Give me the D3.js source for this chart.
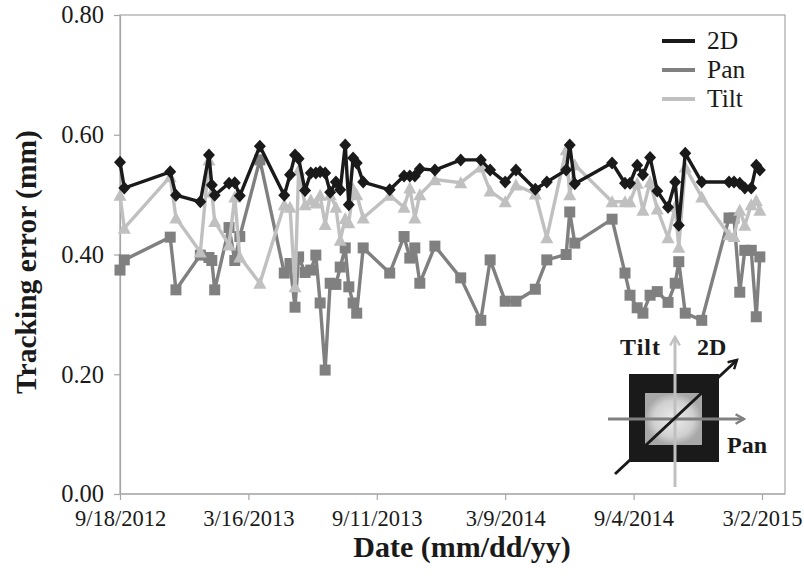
<!DOCTYPE html>
<html>
<head>
<meta charset="utf-8">
<script src="https://cdn.jsdelivr.net/npm/d3@7"></script>
<style>
  body { margin: 0; background: #fff; }
  text { font-family: "Liberation Serif", "Times New Roman", serif; fill: #1a1a1a; }
</style>
</head>
<body>
<svg id="chart"></svg>
<script>
const width = 804;
const height = 580;

// measurement dates (shared by all three series)
const dates = [
  "2012-09-18", "2012-09-24", "2012-11-27", "2012-12-05", "2013-01-08", "2013-01-20",
  "2013-01-24", "2013-01-28", "2013-02-17", "2013-02-25", "2013-03-04", "2013-04-01",
  "2013-05-05", "2013-05-13", "2013-05-20", "2013-05-25", "2013-06-03", "2013-06-11",
  "2013-06-18", "2013-06-24", "2013-07-01", "2013-07-08", "2013-07-16", "2013-07-22",
  "2013-07-29", "2013-08-03", "2013-08-09", "2013-08-14", "2013-08-23", "2013-09-29",
  "2013-10-19", "2013-10-27", "2013-11-03", "2013-11-10", "2013-12-01", "2014-01-06",
  "2014-02-03", "2014-02-16", "2014-03-09", "2014-03-24", "2014-04-20", "2014-05-06",
  "2014-06-02", "2014-06-07", "2014-06-14", "2014-08-05", "2014-08-23", "2014-08-30",
  "2014-09-09", "2014-09-17", "2014-09-27", "2014-10-07", "2014-10-22", "2014-11-01",
  "2014-11-06", "2014-11-15", "2014-12-08", "2015-01-15", "2015-01-22", "2015-01-30",
  "2015-02-06", "2015-02-15", "2015-02-22", "2015-02-27"
];

const err2D = [
  0.554, 0.511, 0.538, 0.499, 0.488, 0.566, 0.516, 0.499, 0.519, 0.520, 0.498, 0.581,
  0.499, 0.533, 0.566, 0.560, 0.507, 0.536, 0.536, 0.538, 0.536, 0.504, 0.521, 0.508,
  0.583, 0.483, 0.561, 0.553, 0.521, 0.508, 0.531, 0.531, 0.531, 0.543, 0.541, 0.558,
  0.558, 0.541, 0.521, 0.541, 0.509, 0.521, 0.541, 0.583, 0.518, 0.553, 0.519, 0.519,
  0.549, 0.533, 0.562, 0.506, 0.479, 0.521, 0.449, 0.569, 0.521, 0.521, 0.521, 0.519,
  0.511, 0.511, 0.549, 0.541
];

const errPan = [
  0.374, 0.391, 0.429, 0.341, 0.399, 0.395, 0.390, 0.341, 0.445, 0.390, 0.430, 0.558,
  0.369, 0.385, 0.312, 0.396, 0.370, 0.374, 0.399, 0.319, 0.207, 0.352, 0.350, 0.379,
  0.411, 0.346, 0.319, 0.302, 0.411, 0.369, 0.430, 0.394, 0.411, 0.352, 0.414, 0.361,
  0.290, 0.391, 0.322, 0.322, 0.342, 0.391, 0.400, 0.471, 0.419, 0.459, 0.369, 0.332,
  0.311, 0.302, 0.332, 0.338, 0.320, 0.352, 0.388, 0.302, 0.290, 0.461, 0.461, 0.337,
  0.407, 0.407, 0.296, 0.396
];

const errTilt = [
  0.499, 0.444, 0.530, 0.461, 0.404, 0.558, 0.504, 0.455, 0.416, 0.496, 0.396, 0.352,
  0.483, 0.479, 0.346, 0.541, 0.483, 0.491, 0.486, 0.499, 0.450, 0.500, 0.479, 0.424,
  0.460, 0.453, 0.510, 0.500, 0.461, 0.499, 0.479, 0.511, 0.461, 0.500, 0.525, 0.520,
  0.546, 0.506, 0.488, 0.516, 0.501, 0.428, 0.575, 0.500, 0.550, 0.488, 0.488, 0.488,
  0.519, 0.474, 0.521, 0.476, 0.428, 0.480, 0.412, 0.546, 0.496, 0.433, 0.430, 0.474,
  0.449, 0.483, 0.490, 0.474
];

const xTicks = ["2012-09-18", "2013-03-16", "2013-09-11", "2014-03-09", "2014-09-04", "2015-03-02"];
const yTicks = [0, 0.2, 0.4, 0.6, 0.8];
const seriesNames = ["2D", "Pan", "Tilt"];

const parse = d3.timeParse("%Y-%m-%d");
const fmtDate = d => `${d.getMonth() + 1}/${d.getDate()}/${d.getFullYear()}`;

const margin = { left: 120, top: 15, right: 19, bottom: 86 };
const plotRight = width - margin.right; // plot frame edge

const svg = d3.select("#chart").attr("width", width).attr("height", height);

const x = d3.scaleTime()
  .domain([parse(xTicks[0]), parse(xTicks[xTicks.length - 1])])
  .range([margin.left, 762]);
const y = d3.scaleLinear().domain([0, 0.8]).range([height - margin.bottom, margin.top]);

// plot frame
svg.append("rect")
  .attr("x", margin.left).attr("y", margin.top)
  .attr("width", plotRight - margin.left)
  .attr("height", y(0) - margin.top)
  .attr("fill", "none").attr("stroke", "#a6a6a6").attr("stroke-width", 1.2);

// axes
const xAxis = svg.append("g")
  .attr("transform", `translate(0,${y(0)})`)
  .call(d3.axisBottom(x).tickValues(xTicks.map(parse)).tickFormat(fmtDate).tickSize(6).tickSizeOuter(0).tickPadding(10));
const yAxis = svg.append("g")
  .attr("transform", `translate(${margin.left},0)`)
  .call(d3.axisLeft(y).tickValues(yTicks).tickFormat(d3.format(".2f")).tickSize(6).tickSizeOuter(0).tickPadding(10));

[xAxis, yAxis].forEach(a => {
  a.selectAll("path, line").attr("stroke", "#a6a6a6").attr("stroke-width", 1.2);
  a.selectAll("text").attr("font-family", "Liberation Serif").attr("fill", "#1a1a1a");
});
xAxis.selectAll("text").attr("font-size", 22.5);
yAxis.selectAll("text").attr("font-size", 24.5);
xAxis.select(".domain").attr("d", `M${margin.left},0H${plotRight}`);

// axis titles
svg.append("text")
  .attr("x", 462).attr("y", 557)
  .attr("text-anchor", "middle")
  .attr("font-size", 30).attr("font-weight", "bold")
  .text("Date (mm/dd/yy)");
svg.append("text")
  .attr("transform", `translate(36,262) rotate(-90)`)
  .attr("text-anchor", "middle")
  .attr("font-size", 29.5).attr("font-weight", "bold")
  .text("Tracking error (mm)");

// series
const series = [
  { name: seriesNames[1], values: errPan, color: "#808080", shape: "square" },
  { name: seriesNames[2], values: errTilt, color: "#c0c0c0", shape: "triangle" },
  { name: seriesNames[0], values: err2D, color: "#1a1a1a", shape: "diamond" }
];

const markerPath = {
  diamond: "M0,-6.5L6,0L0,6.5L-6,0Z",
  square: "M-5.5,-5.5H5.5V5.5H-5.5Z",
  triangle: "M0,-6.5L6.5,5.5H-6.5Z"
};

const line = d3.line().x(d => x(d.date)).y(d => y(d.value));

series.forEach(s => {
  const pts = dates.map((d, i) => ({ date: parse(d), value: s.values[i] }));
  const g = svg.append("g");
  g.append("path")
    .datum(pts)
    .attr("d", line)
    .attr("fill", "none")
    .attr("stroke", s.color)
    .attr("stroke-width", 3.4);
  g.selectAll("path.mk")
    .data(pts)
    .enter()
    .append("path")
    .attr("class", "mk")
    .attr("d", markerPath[s.shape])
    .attr("transform", d => `translate(${x(d.date)},${y(d.value)})`)
    .attr("fill", s.color);
});

// legend
const legend = svg.append("g");
[
  { name: "2D", color: "#1a1a1a" },
  { name: "Pan", color: "#808080" },
  { name: "Tilt", color: "#c0c0c0" }
].forEach((d, i) => {
  const ly = 41 + i * 29;
  legend.append("line")
    .attr("x1", 662).attr("x2", 695).attr("y1", ly).attr("y2", ly)
    .attr("stroke", d.color).attr("stroke-width", 4);
  legend.append("text")
    .attr("x", 707).attr("y", ly + 8)
    .attr("font-size", 25.5)
    .text(d.name);
});

// inset diagram of tracking directions
const defs = svg.append("defs");
const grad = defs.append("radialGradient").attr("id", "glow");
grad.append("stop").attr("offset", "0%").attr("stop-color", "#ececec");
grad.append("stop").attr("offset", "70%").attr("stop-color", "#d0d0d0");
grad.append("stop").attr("offset", "100%").attr("stop-color", "#a8a8a8");
const arrow = (id, color) => defs.append("marker")
  .attr("id", id).attr("viewBox", "0 0 10 10").attr("refX", 8).attr("refY", 5)
  .attr("markerWidth", 4).attr("markerHeight", 4).attr("orient", "auto")
  .append("path").attr("d", "M1,1L8,5L1,9").attr("fill", "none")
  .attr("stroke", color).attr("stroke-width", 2);
arrow("arT", "#c0c0c0");
arrow("arP", "#808080");
arrow("arD", "#1a1a1a");

const inset = svg.append("g");
inset.append("rect").attr("x", 629).attr("y", 374).attr("width", 90).attr("height", 88).attr("fill", "#1a1a1a");
inset.append("rect").attr("x", 645).attr("y", 393).attr("width", 57).attr("height", 52).attr("fill", "url(#glow)");
inset.append("line").attr("x1", 675).attr("y1", 487).attr("x2", 675).attr("y2", 337)
  .attr("stroke", "#c0c0c0").attr("stroke-width", 3).attr("marker-end", "url(#arT)");
inset.append("line").attr("x1", 608).attr("y1", 419).attr("x2", 744).attr("y2", 419)
  .attr("stroke", "#808080").attr("stroke-width", 3).attr("marker-end", "url(#arP)");
inset.append("line").attr("x1", 615).attr("y1", 474).attr("x2", 737).attr("y2", 360)
  .attr("stroke", "#1a1a1a").attr("stroke-width", 3).attr("marker-end", "url(#arD)");
inset.append("text").attr("x", 661).attr("y", 355).attr("text-anchor", "end")
  .attr("font-size", 24).attr("font-weight", "bold").attr("letter-spacing", 1).text("Tilt");
inset.append("text").attr("x", 697).attr("y", 355)
  .attr("font-size", 24).attr("font-weight", "bold").text("2D");
inset.append("text").attr("x", 727).attr("y", 453)
  .attr("font-size", 24).attr("font-weight", "bold").text("Pan");
</script>
</body>
</html>
